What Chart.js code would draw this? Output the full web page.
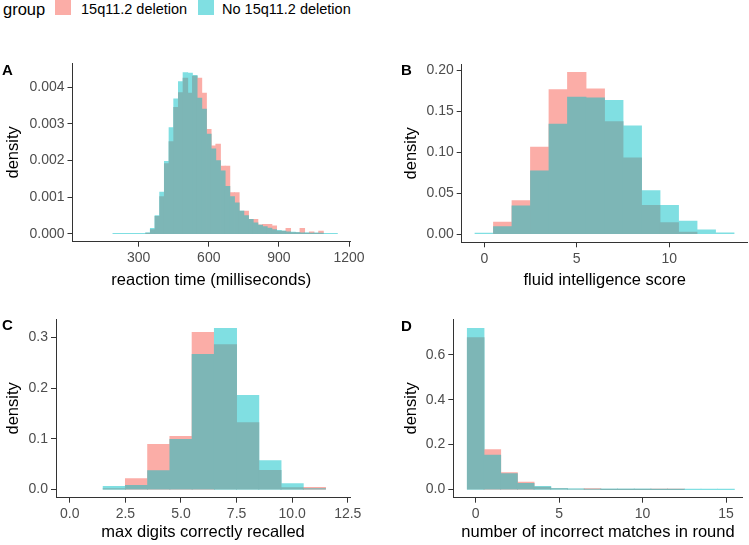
<!DOCTYPE html>
<html>
<head>
<meta charset="utf-8">
<script src="https://cdn.jsdelivr.net/npm/chart.js@4.4.0/dist/chart.umd.min.js"></script>
<style>
  body { margin: 0; background: #fff; }
  #wrap { position: relative; width: 749px; height: 545px; overflow: hidden; font-family: "Liberation Sans", Arial, sans-serif; }
  canvas { position: absolute; }
  .txt { position: absolute; white-space: nowrap; color: #000; line-height: 18px; }
  .key { position: absolute; width: 16px; height: 15px; }
  .tag { position: absolute; font-weight: bold; font-size: 15px; line-height: 18px; }
</style>
</head>
<body>
<div id="wrap">
  <!-- shared legend -->
  <span class="txt" style="left:3px;top:0;font-size:16.5px">group</span>
  <div class="key" style="left:55px;top:0;background:#fbada7"></div>
  <span class="txt" style="left:81px;top:0;font-size:14.5px">15q11.2 deletion</span>
  <div class="key" style="left:198px;top:0;background:#80dfe2"></div>
  <span class="txt" style="left:222px;top:0;font-size:14.5px">No 15q11.2 deletion</span>

  <canvas id="chartA" width="370" height="260" style="left:0;top:40px"></canvas>
  <canvas id="chartB" width="351" height="260" style="left:398px;top:40px"></canvas>
  <canvas id="chartC" width="370" height="245" style="left:0;top:300px"></canvas>
  <canvas id="chartD" width="351" height="245" style="left:398px;top:300px"></canvas>

  <span class="tag" style="left:2px;top:61px">A</span>
  <span class="tag" style="left:401px;top:61px">B</span>
  <span class="tag" style="left:2px;top:316px">C</span>
  <span class="tag" style="left:401px;top:317px">D</span>
</div>
<script>
// A: reaction time, 20 ms bins (bin centres)
const binsA = [200, 220, 240, 260, 280, 300, 320, 340, 360, 380, 400, 420, 440, 460, 480, 500, 520, 540, 560, 580,
  600, 620, 640, 660, 680, 700, 720, 740, 760, 780, 800, 820, 840, 860, 880, 900, 920, 940, 960, 980, 1000, 1020,
  1040, 1060, 1080, 1100, 1120, 1140];
const delA = [0, 0, 0, 0, 0, 0, 0, 0.00002, 0.00012, 0.00048, 0.00102, 0.00192, 0.00252, 0.00345, 0.00385, 0.00425,
  0.00384, 0.00430, 0.00425, 0.00384, 0.00285, 0.00240, 0.00245, 0.00185, 0.00185, 0.00113, 0.00113, 0.00062,
  0.00062, 0.00040, 0.00040, 0.00025, 0.00026, 0.00026, 0.00022, 0.00008, 0.00008, 0.00015, 0.00004, 0.00004,
  0.00015, 0.00002, 0.00006, 0.00002, 0.00008, 0, 0, 0];
const noDelA = [0.00001, 0.00001, 0.00001, 0.00001, 0.00001, 0.00001, 0.00001, 0.00003, 0.00015, 0.00050, 0.00114,
  0.00198, 0.00290, 0.00368, 0.00415, 0.00440, 0.00438, 0.00432, 0.00370, 0.00340, 0.00272, 0.00232, 0.00200,
  0.00172, 0.00130, 0.00102, 0.00085, 0.00062, 0.00050, 0.00040, 0.00030, 0.00024, 0.00020, 0.00016, 0.00012,
  0.00010, 0.00008, 0.00006, 0.00005, 0.00004, 0.00003, 0.00003, 0.00002, 0.00002, 0.00002, 0.00001, 0.00001, 0.00001];
const xTicksA = [300, 600, 900, 1200];
const xLabelsA = ["300", "600", "900", "1200"];
const yTicksA = [0, 0.001, 0.002, 0.003, 0.004];
const yLabelsA = ["0.000", "0.001", "0.002", "0.003", "0.004"];

// B: fluid intelligence score
const binsB = [0, 1, 2, 3, 4, 5, 6, 7, 8, 9, 10, 11, 12, 13];
const delB = [0, 0.0146, 0.041, 0.106, 0.176, 0.197, 0.177, 0.137, 0.093, 0.035, 0.014, 0.0025, 0, 0];
const noDelB = [0.0012, 0.0093, 0.0345, 0.077, 0.134, 0.167, 0.166, 0.163, 0.132, 0.053, 0.035, 0.016, 0.0053, 0.0015];
const xTicksB = [0, 5, 10];
const xLabelsB = ["0", "5", "10"];
const yTicksB = [0, 0.05, 0.10, 0.15, 0.20];
const yLabelsB = ["0.00", "0.05", "0.10", "0.15", "0.20"];

// C: max digits recalled
const binsC = [2, 3, 4, 5, 6, 7, 8, 9, 10, 11];
const delC = [0.002, 0.0217, 0.089, 0.105, 0.31, 0.286, 0.132, 0.038, 0.004, 0.0046];
const noDelC = [0.0066, 0.0086, 0.0375, 0.099, 0.267, 0.318, 0.186, 0.057, 0.012, 0.002];
const xTicksC = [0, 2.5, 5, 7.5, 10, 12.5];
const xLabelsC = ["0.0", "2.5", "5.0", "7.5", "10.0", "12.5"];
const yTicksC = [0, 0.1, 0.2, 0.3];
const yLabelsC = ["0.0", "0.1", "0.2", "0.3"];

// D: incorrect matches in round
const binsD = [0, 1, 2, 3, 4, 5, 6, 7, 8, 9, 10, 11, 12, 13, 14, 15];
const delD = [0.676, 0.178, 0.0757, 0.0327, 0.0104, 0.004, 0.0025, 0.004, 0.0005, 0.0005, 0.0005, 0.0008, 0.0005, 0, 0, 0];
const noDelD = [0.717, 0.153, 0.071, 0.028, 0.0148, 0.0045, 0.003, 0.0015, 0.001, 0.0008, 0.0005, 0.0003, 0.0003, 0.0002, 0.0002, 0.0002];
const xTicksD = [0, 5, 10, 15];
const xLabelsD = ["0", "5", "10", "15"];
const yTicksD = [0, 0.2, 0.4, 0.6];
const yLabelsD = ["0.0", "0.2", "0.4", "0.6"];

// pink 60% / teal 50% over white, pre-blended so neighbouring bars don't leave seams
const PINK = "#fbada7";
const TEAL = "#80dfe2";
const BOTH = "#7db6b6";

const FONT = "'Liberation Sans', Arial, sans-serif";
const tickFont = { family: FONT, size: 14 };
const titleFont = { family: FONT, size: 16.5 };

function axis(ticks, labels, title, min, max) {
  return {
    type: "linear",
    min: min,
    max: max,
    offset: false,
    afterBuildTicks: s => { s.ticks = ticks.map(v => ({ value: v })); },
    ticks: {
      callback: v => labels[ticks.indexOf(v)],
      color: "#4d4d4d",
      font: tickFont,
      padding: 3,
      maxRotation: 0,
      autoSkip: false
    },
    grid: { drawOnChartArea: false, drawTicks: true, tickLength: 5, tickColor: "#333", offset: false },
    border: { display: true, color: "#333", width: 1 },
    title: { display: true, text: title, color: "#000", font: titleFont, padding: { top: 4, bottom: 0 } }
  };
}

function histogram(id, bins, del, noDel, o) {
  const x = axis(o.xTicks, o.xLabels, o.xTitle, o.xMin, o.xMax);
  x.afterFit = s => { s.height = o.xHeight; };
  const y = axis(o.yTicks, o.yLabels, "density", o.yMin, o.yMax);
  y.afterFit = s => { s.width = o.yWidth; };

  // taller group in its own colour, the shared part (min of both) in the overlap colour
  const taller = bins.map((b, i) => ({ x: b, y: Math.max(del[i], noDel[i]) }));
  const tallerColors = bins.map((b, i) => del[i] > noDel[i] ? PINK : TEAL);
  const shared = bins.map((b, i) => ({ x: b, y: Math.min(del[i], noDel[i]) > 0 ? Math.min(del[i], noDel[i]) : null }));

  return new Chart(document.getElementById(id), {
    type: "bar",
    data: {
      datasets: [
        { label: "taller group", data: taller, backgroundColor: tallerColors, order: 1 },
        { label: "both groups", data: shared, backgroundColor: BOTH, order: 0 }
      ]
    },
    options: {
      responsive: false,
      animation: false,
      devicePixelRatio: 1,
      grouped: false,
      barPercentage: 1,
      categoryPercentage: 1,
      borderWidth: 0,
      inflateAmount: 0.4,
      layout: { padding: o.padding },
      plugins: { legend: { display: false }, tooltip: { enabled: false } },
      scales: { x: x, y: y }
    }
  });
}

histogram("chartA", binsA, delA, noDelA, {
  xTicks: xTicksA, xLabels: xLabelsA, xTitle: "reaction time (milliseconds)", xMin: 17, xMax: 1204,
  yTicks: yTicksA, yLabels: yLabelsA, yMin: -0.00021, yMax: 0.00466,
  yWidth: 72.5, xHeight: 48.2, padding: { left: 0, top: 23, right: 20, bottom: 10.1 }
});
histogram("chartB", binsB, delB, noDelB, {
  xTicks: xTicksB, xLabels: xLabelsB, xTitle: "fluid intelligence score", xMin: -1.22, xMax: 14.24,
  yTicks: yTicksB, yLabels: yLabelsB, yMin: -0.00985, yMax: 0.207,
  yWidth: 63.7, xHeight: 47.6, padding: { left: 0, top: 24.3, right: 1.3, bottom: 10.1 }
});
histogram("chartC", binsC, delC, noDelC, {
  xTicks: xTicksC, xLabels: xLabelsC, xTitle: "max digits correctly recalled", xMin: -0.62, xMax: 12.6,
  yTicks: yTicksC, yLabels: yLabelsC, yMin: -0.0159, yMax: 0.3366,
  yWidth: 56, xHeight: 45, padding: { left: 0, top: 19, right: 20, bottom: 2.3 }
});
histogram("chartD", binsD, delD, noDelD, {
  xTicks: xTicksD, xLabels: xLabelsD, xTitle: "number of incorrect matches in round", xMin: -1.34, xMax: 16.0,
  yTicks: yTicksD, yLabels: yLabelsD, yMin: -0.036, yMax: 0.7586,
  yWidth: 55.3, xHeight: 45, padding: { left: 0, top: 19, right: 6.3, bottom: 2.3 }
});
</script>
</body>
</html>
